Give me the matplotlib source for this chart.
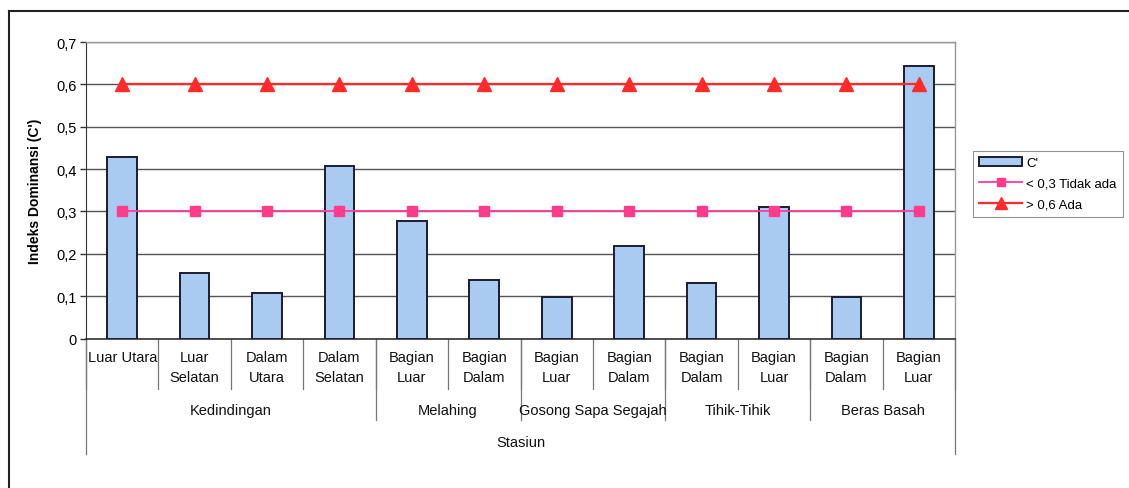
import matplotlib.pyplot as plt
from matplotlib.lines import Line2D
from matplotlib.patches import Patch
import matplotlib.transforms as mtransforms

plt.rcParams['font.family'] = ['Liberation Sans', 'DejaVu Sans']

# stations (first level) and their groups (second level)
stations = ["Luar Utara", "Luar\nSelatan", "Dalam\nUtara", "Dalam\nSelatan",
            "Bagian\nLuar", "Bagian\nDalam", "Bagian\nLuar", "Bagian\nDalam",
            "Bagian\nDalam", "Bagian\nLuar", "Bagian\nDalam", "Bagian\nLuar"]
groups = ["Kedindingan", "Melahing", "Gosong Sapa Segajah", "Tihik-Tihik", "Beras Basah"]
group_sizes = [4, 2, 2, 2, 2]

c_index = [0.428, 0.155, 0.107, 0.407, 0.277, 0.139, 0.097, 0.219,
           0.131, 0.310, 0.098, 0.644]
low_limit = [0.3] * 12
high_limit = [0.6] * 12

W, H = 1129, 489
fig = plt.figure(figsize=(W / 100, H / 100), dpi=100)
ax = fig.add_axes([86 / W, 1 - 339.5 / H, (955 - 86) / W, (339.5 - 43) / H])

x = list(range(len(stations)))
ax.bar(x, c_index, width=0.41, color="#a9cbf2", edgecolor="#1c1c30", linewidth=1.4,
       label="C'", zorder=3)
ax.plot(x, low_limit, color="#ff3ca0", lw=1.3, marker="s", ms=7, mec="#ff3c8c",
        mfc="#ff3c8c", zorder=4)
ax.plot(x, high_limit, color="#ff2a2a", lw=1.6, marker="^", ms=10, zorder=4)

ax.set_xlim(-0.5, len(stations) - 0.5)
ax.set_ylim(0, 0.7)
ax.set_yticks([i / 10 for i in range(8)])
ax.set_yticklabels(["0"] + ["0,%d" % i for i in range(1, 8)], fontsize=10.5)
ax.yaxis.grid(True, color="#555555", lw=1.0)
ax.set_axisbelow(True)
ax.tick_params(axis="y", length=4, width=1, color="#333333", pad=3)
ax.set_xticks([])
for side in ["top", "right"]:
    ax.spines[side].set_color("#999999")
    ax.spines[side].set_linewidth(1.0)
ax.spines["left"].set_color("#333333")
ax.spines["bottom"].set_color("#333333")
ax.spines["bottom"].set_linewidth(1.2)

ax.set_ylabel("Indeks Dominansi (C')", fontsize=10, fontweight="bold", labelpad=10)

# multi-level category axis
trans = mtransforms.blended_transform_factory(ax.transData, ax.transAxes)
ah = 339.5 - 43
def fy(px):
    return -(px - 339.5) / ah

sep_kw = dict(transform=trans, clip_on=False, color="#777777", lw=0.9)
for i, name in enumerate(stations):
    ax.text(i, fy(351), name, transform=trans, ha="center", va="top", fontsize=10.5,
            linespacing=1.5, color="#111111")

bounds = [-0.5]
for s in group_sizes:
    bounds.append(bounds[-1] + s)
for b in range(len(stations) + 1):
    ax.plot([b - 0.5, b - 0.5], [0, fy(390)], **sep_kw)
for b in bounds[1:-1]:
    ax.plot([b, b], [0, fy(421)], **sep_kw)
for b in [bounds[0], bounds[-1]]:
    ax.plot([b, b], [0, fy(455)], **sep_kw)

for g, lo, hi in zip(groups, bounds[:-1], bounds[1:]):
    ax.text((lo + hi) / 2, fy(411), g, transform=trans, ha="center", va="center",
            fontsize=10.5, color="#111111")
ax.text((bounds[0] + bounds[-1]) / 2, fy(443), "Stasiun", transform=trans,
        ha="center", va="center", fontsize=10.5, color="#111111")

handles = [Patch(facecolor="#a9cbf2", edgecolor="#1c1c30", linewidth=1.4),
           Line2D([], [], color="#ff3ca0", lw=1.3, marker="s", ms=6, mfc="#ff3c8c",
                  mec="#ff3c8c"),
           Line2D([], [], color="#ff2a2a", lw=1.6, marker="^", ms=8)]
leg = fig.legend(handles, ["C'", "< 0,3 Tidak ada", "> 0,6 Ada"],
                 loc="upper left", bbox_to_anchor=(973 / W, 1 - 152 / H),
                 fontsize=9.5, frameon=True, fancybox=False, borderpad=0.45,
                 handlelength=3.3, handletextpad=0.3, labelspacing=0.65,
                 borderaxespad=0)
leg.get_frame().set_edgecolor("#777777")
leg.get_frame().set_linewidth(0.8)

# outer frame of the chart area
fig.add_artist(Line2D([8.5 / W, 8.5 / W], [0, 1 - 12 / H], transform=fig.transFigure,
                      color="#222222", lw=1.5))
fig.add_artist(Line2D([8.5 / W, 1], [1 - 12 / H, 1 - 12 / H], transform=fig.transFigure,
                      color="#222222", lw=1.5))

fig.savefig("out.png", dpi=100, facecolor="white")
